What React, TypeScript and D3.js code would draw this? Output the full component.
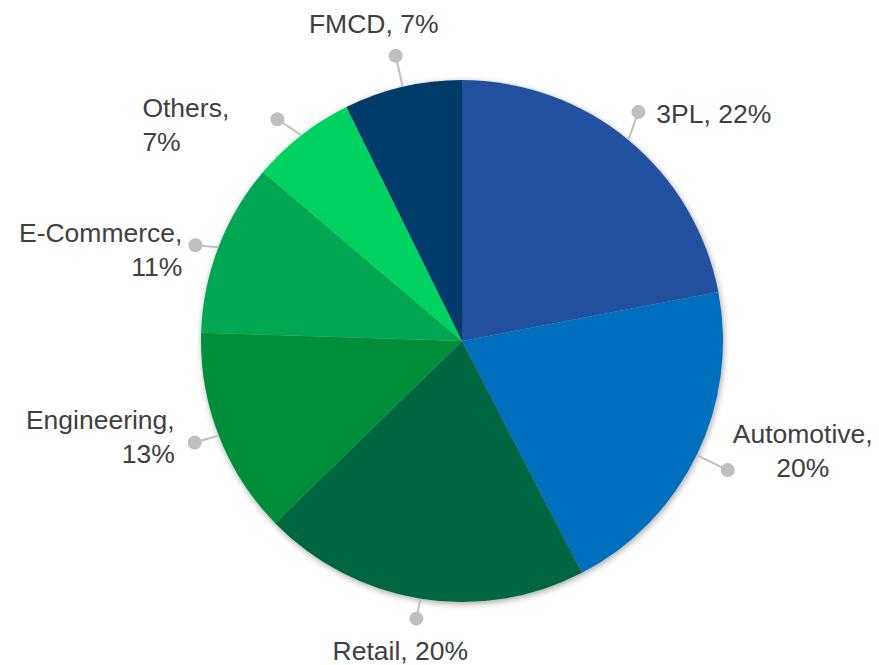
import React from "react";
import * as d3 from "d3";

const categories = ["3PL", "Automotive", "Retail", "Engineering", "E-Commerce", "Others", "FMCD"];
const shares = [22, 20.4, 20.3, 12.8, 10.7, 6.5, 7.3];
const colors = ["#2451A0", "#006FBE", "#006642", "#008F37", "#00A651", "#00D261", "#003A6A"];

// label layout: dot offset from slice edge point, text placement relative to dot
const labelLayout = [
  { ddx: 10, ddy: -28, anchor: "start", tx: 18, ty: 11, split: false },
  { ddx: 31, ddy: 15, anchor: "middle", tx: 75, ty: -27, split: true },
  { ddx: -4, ddy: 20, anchor: "middle", tx: -16, ty: 41, split: false },
  { ddx: -24, ddy: 7, anchor: "end", tx: -20, ty: -14, split: true },
  { ddx: -23, ddy: -2, anchor: "end", tx: -13, ty: -3, split: true },
  { ddx: -24, ddy: -16, anchor: "start", tx: -135, ty: -2, split: true },
  { ddx: -7, ddy: -31, anchor: "middle", tx: -22, ty: -23, split: false },
];

const W = 879;
const H = 665;
const cx = 462;
const cy = 341;
const R = 261;

export default function App() {
  const data = categories.map((c, i) => ({ name: c, value: shares[i], color: colors[i] }));
  const pie = d3.pie<any>().value((d: any) => d.value).sort(null);
  const arcs = pie(data);
  const arc = d3.arc<any>().innerRadius(0).outerRadius(R);
  const lineH = 34;

  return (
    <svg width={W} height={H} style={{ position: "absolute", left: 0, top: 0, background: "#fff" }}>
      <defs>
        <filter id="sh" x="-10%" y="-10%" width="120%" height="120%">
          <feDropShadow dx="1" dy="2" stdDeviation="3" floodColor="#000" floodOpacity="0.35" />
        </filter>
      </defs>
      <g transform={`translate(${cx},${cy})`} filter="url(#sh)">
        {arcs.map((a, i) => (
          <path key={i} d={arc(a) as string} fill={a.data.color} />
        ))}
      </g>
      {arcs.map((a, i) => {
        const mid = (a.startAngle + a.endAngle) / 2;
        const ex = cx + R * Math.sin(mid);
        const ey = cy - R * Math.cos(mid);
        const L = labelLayout[i];
        const dx = ex + L.ddx;
        const dy = ey + L.ddy;
        const pct = `${Math.round(a.data.value)}%`;
        const lines = L.split ? [`${a.data.name},`, pct] : [`${a.data.name}, ${pct}`];
        return (
          <g key={i}>
            <line x1={ex} y1={ey} x2={dx} y2={dy} stroke="#BFBFBF" strokeWidth={2} />
            <circle cx={dx} cy={dy} r={7} fill="#BFBFBF" />
            <text
              x={dx + L.tx}
              y={dy + L.ty}
              textAnchor={L.anchor as any}
              fill="#404040"
              fontFamily="'Liberation Sans', Arial, sans-serif"
              fontSize={26.5}
            >
              {lines.map((t, j) => (
                <tspan key={j} x={dx + L.tx} dy={j === 0 ? 0 : lineH}>
                  {t}
                </tspan>
              ))}
            </text>
          </g>
        );
      })}
    </svg>
  );
}
